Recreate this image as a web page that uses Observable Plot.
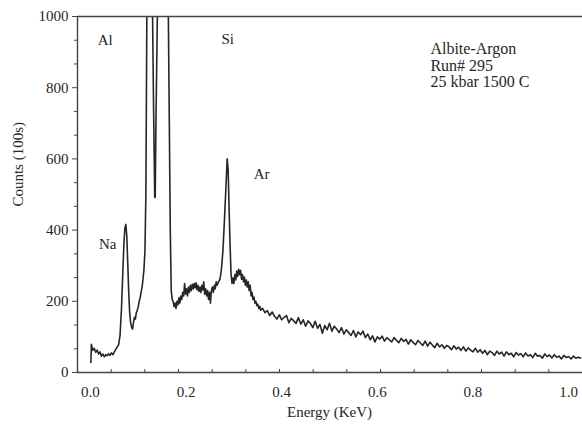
<!DOCTYPE html>
<html>
<head>
<meta charset="utf-8">
<script src="https://cdn.jsdelivr.net/npm/d3@7"></script>
<script src="https://cdn.jsdelivr.net/npm/@observablehq/plot@0.6"></script>
<style>
  html, body { margin: 0; padding: 0; background: #fff; }
</style>
</head>
<body>
<div id="chart"></div>
<script>
// Spectrum, low energy part (Na, Al, Si peaks; Al/Si clipped above 1000)
const energyLow = [0.001, 0.002, 0.005, 0.008, 0.011, 0.014, 0.017, 0.020, 0.023, 0.026, 0.029, 0.032, 0.035, 0.038, 0.041, 0.044, 0.047, 0.050, 0.053, 0.056, 0.059, 0.062, 0.065, 0.068, 0.070, 0.072, 0.074, 0.076, 0.078, 0.080, 0.082, 0.084, 0.086, 0.088, 0.090, 0.092, 0.094, 0.096, 0.098, 0.100, 0.102, 0.104, 0.106, 0.108, 0.110, 0.112, 0.114, 0.116, 0.118, 0.121, 0.124, 0.127, 0.130, 0.132, 0.1345, 0.1355, 0.137, 0.140, 0.145, 0.151, 0.156, 0.160, 0.163, 0.165, 0.167, 0.169, 0.171];
const countsLow = [28, 79, 62, 68, 57, 63, 52, 58, 46, 52, 44, 50, 47, 53, 48, 55, 50, 58, 65, 72, 78, 105, 180, 290, 360, 405, 416, 385, 310, 230, 170, 140, 128, 122, 140, 155, 150, 168, 175, 185, 200, 210, 225, 240, 262, 290, 340, 500, 1000, 1500, 1550, 1300, 1000, 750, 492, 492, 700, 1000, 1500, 1700, 1600, 1300, 1000, 700, 400, 230, 205];

// Middle part (plateau and Ar peak)
const energyMid = [0.173, 0.175, 0.177, 0.179, 0.181, 0.183, 0.185, 0.187, 0.189, 0.191, 0.193, 0.195, 0.197, 0.199, 0.201, 0.203, 0.205, 0.207, 0.209, 0.211, 0.213, 0.215, 0.217, 0.219, 0.221, 0.223, 0.225, 0.227, 0.229, 0.231, 0.233, 0.235, 0.237, 0.239, 0.241, 0.243, 0.245, 0.247, 0.249, 0.251, 0.253, 0.255, 0.257, 0.259, 0.261, 0.263, 0.265, 0.268, 0.271, 0.274, 0.277, 0.280, 0.283, 0.286, 0.288, 0.290, 0.292, 0.294, 0.296, 0.298, 0.300, 0.302, 0.304, 0.306, 0.308, 0.310, 0.312, 0.314, 0.316, 0.318, 0.320, 0.322, 0.324, 0.326, 0.328, 0.330, 0.332, 0.334, 0.336, 0.338, 0.340, 0.342, 0.344, 0.346, 0.348, 0.350, 0.352, 0.354, 0.356];
const countsMid = [200, 185, 195, 180, 200, 190, 210, 195, 215, 205, 225, 215, 250, 220, 235, 215, 240, 225, 245, 230, 248, 235, 250, 238, 252, 232, 245, 228, 240, 225, 245, 232, 255, 220, 235, 215, 230, 205, 225, 195, 230, 240, 225, 245, 235, 255, 245, 255, 262, 290, 340, 420, 510, 600, 570, 460, 360, 280, 250, 265, 250, 275, 260, 285, 270, 290, 275, 287, 262, 275, 255, 268, 245, 260, 240, 255, 230, 245, 215, 225, 205, 212, 195, 200, 188, 192, 180, 186, 175];

// Continuum tail
const energyTail = [0.360, 0.365, 0.370, 0.375, 0.380, 0.385, 0.390, 0.395, 0.400, 0.405, 0.410, 0.415, 0.420, 0.425, 0.430, 0.435, 0.440, 0.445, 0.450, 0.455, 0.460, 0.465, 0.470, 0.475, 0.480, 0.485, 0.490, 0.495, 0.500, 0.505, 0.510, 0.515, 0.520, 0.525, 0.530, 0.535, 0.540, 0.545, 0.550, 0.555, 0.560, 0.565, 0.570, 0.575, 0.580, 0.585, 0.590, 0.595, 0.600, 0.605, 0.610, 0.615, 0.620, 0.625, 0.630, 0.635, 0.640, 0.645, 0.650, 0.655, 0.660, 0.665, 0.670, 0.675, 0.680, 0.685, 0.690, 0.695, 0.700, 0.705, 0.710, 0.715, 0.720, 0.725, 0.730, 0.735, 0.740, 0.745, 0.750, 0.755, 0.760, 0.765, 0.770, 0.775, 0.780, 0.785, 0.790, 0.795, 0.800, 0.805, 0.810, 0.815, 0.820, 0.825, 0.830, 0.835, 0.840, 0.845, 0.850, 0.855, 0.860, 0.865, 0.870, 0.875, 0.880, 0.885, 0.890, 0.895, 0.900, 0.905, 0.910, 0.915, 0.920, 0.925, 0.930, 0.935, 0.940, 0.945, 0.950, 0.955, 0.960, 0.965, 0.970, 0.975, 0.980, 0.985, 0.990, 0.995, 1.000, 1.005, 1.010, 1.015, 1.020, 1.025];
const countsTail = [180, 168, 174, 160, 170, 158, 150, 162, 148, 155, 160, 140, 152, 145, 138, 154, 136, 148, 130, 145, 138, 126, 144, 124, 135, 110, 132, 120, 138, 116, 130, 122, 112, 126, 108, 120, 112, 104, 118, 100, 114, 106, 116, 98, 108, 92, 103, 86, 100, 94, 102, 88, 98, 92, 86, 98, 90, 84, 96, 87, 93, 80, 92, 84, 78, 90, 83, 76, 88, 74, 85, 77, 70, 82, 72, 78, 68, 76, 72, 64, 75, 66, 71, 62, 72, 60, 69, 63, 58, 68, 57, 64, 54, 62, 50, 60, 56, 48, 60, 52, 57, 46, 58, 50, 54, 44, 56, 49, 53, 44, 55, 46, 50, 42, 54, 46, 48, 40, 52, 45, 49, 41, 50, 43, 46, 38, 48, 42, 45, 38, 46, 40, 43, 41];

// Axis ticks
const xTickLabels = [0.0, 0.2, 0.4, 0.6, 0.8, 1.0];
const xMinorTicks = [0.0434, 0.1138, 0.1842, 0.2546, 0.325, 0.3954, 0.4658, 0.5362, 0.6066, 0.677, 0.7474, 0.8178, 0.8882, 0.9586];
const yTickLabels = [0, 200, 400, 600, 800, 1000];
const yMinorTicks = [66.7, 133.3, 266.7, 333.3, 466.7, 533.3, 666.7, 733.3, 866.7, 933.3];

// Annotations
const peakNames = ["Al", "Si", "Na", "Ar"];
const peakX = [0.031, 0.287, 0.036, 0.358];
const peakY = [933, 936, 360, 556];
const infoLines = ["Albite-Argon", "Run# 295", "25 kbar 1500 C"];
const infoY = [909, 861, 815];
const infoX = 0.711;

const xDomain = [-0.027, 1.029];

const spectrum = [
  ...energyLow.map((e, i) => ({energy: e, counts: countsLow[i]})),
  ...energyMid.map((e, i) => ({energy: e, counts: countsMid[i]})),
  ...energyTail.map((e, i) => ({energy: e, counts: countsTail[i]}))
];
const peaks = peakNames.map((t, i) => ({t, x: peakX[i], y: peakY[i]}));
const info = infoLines.map((t, i) => ({t, x: infoX, y: infoY[i]}));

const ink = "#262626";
const serif = "'Liberation Serif', 'Times New Roman', serif";

const chart = Plot.plot({
  width: 582,
  height: 425,
  marginLeft: 77,
  marginRight: 0,
  marginTop: 16,
  marginBottom: 53,
  style: {fontFamily: serif, fontSize: "15px", background: "#fff", color: ink},
  x: {domain: xDomain, label: null},
  y: {domain: [0, 1000], label: null},
  marks: [
    Plot.lineY(spectrum, {x: "energy", y: "counts", stroke: ink, strokeWidth: 1.6, clip: true}),
    Plot.ruleY([0, 1000], {stroke: "#444", strokeWidth: 1.4}),
    Plot.ruleX([xDomain[0]], {stroke: "#444", strokeWidth: 1.4}),
    Plot.axisX({ticks: xTickLabels, tickSize: 0, tickPadding: 14, tickFormat: d3.format(".1f"), label: null, fontSize: 15, fontFamily: serif}),
    Plot.axisX({ticks: xMinorTicks, tickSize: -3, tickFormat: () => "", label: null, stroke: "#444"}),
    Plot.axisY({ticks: yTickLabels, tickSize: 5, tickPadding: 4, tickFormat: d => String(d), label: null, fontSize: 15, fontFamily: serif, stroke: "#444"}),
    Plot.axisY({ticks: yMinorTicks, tickSize: 3, tickFormat: () => "", label: null, stroke: "#444"}),
    Plot.text(peaks, {x: "x", y: "y", text: "t", fontSize: 15, fontFamily: serif, fill: ink}),
    Plot.text(info, {x: "x", y: "y", text: "t", textAnchor: "start", fontSize: 16, fontFamily: serif, fill: ink}),
    Plot.text(["Energy (KeV)"], {x: [0.5], frameAnchor: "bottom", dy: 44, fontSize: 15, fontFamily: serif, fill: ink}),
    Plot.text(["Counts (100s)"], {y: [466], frameAnchor: "left", dx: -59, rotate: -90, fontSize: 15, fontFamily: serif, fill: ink})
  ]
});
document.getElementById("chart").appendChild(chart);
</script>
</body>
</html>
